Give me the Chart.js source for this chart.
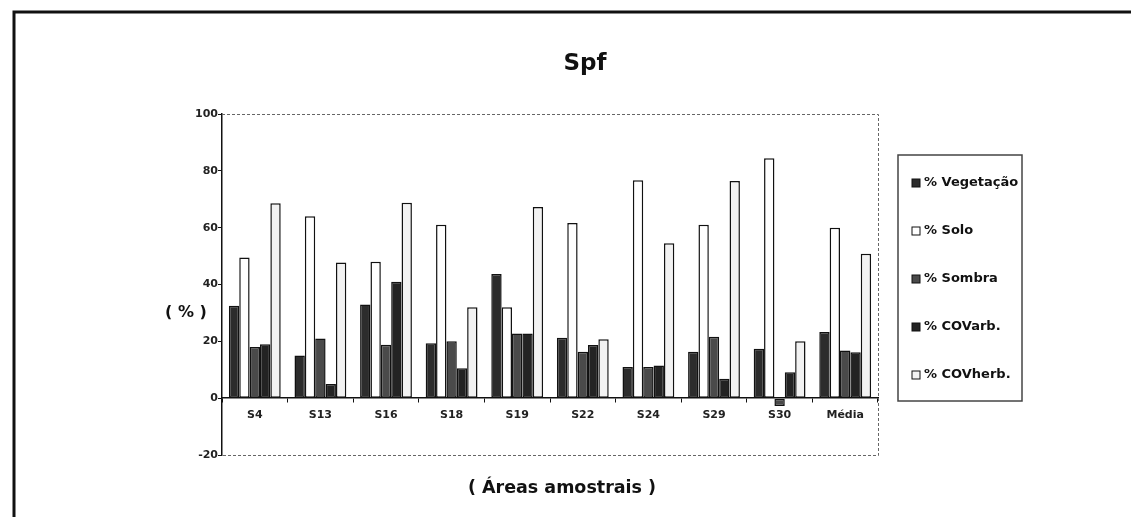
<!DOCTYPE html>
<html>
<head>
<meta charset="utf-8">
<script src="https://cdn.jsdelivr.net/npm/chart.js@4/dist/chart.umd.min.js"></script>
<style>
  html, body { margin: 0; padding: 0; background: #fff; }
  canvas { display: block; }
</style>
</head>
<body>
<canvas id="chart" width="1131" height="517"></canvas>
<script>
const categories = ['S4', 'S13', 'S16', 'S18', 'S19', 'S22', 'S24', 'S29', 'S30', 'Média'];
const vegetacao = [32.5, 15, 33, 19.3, 43.7, 21.3, 11, 16.3, 17.4, 23.3];
const solo = [49.5, 64, 48, 61, 32, 61.6, 76.7, 61, 84.4, 60];
const sombra = [18, 21, 18.8, 20, 22.8, 16.3, 11, 21.6, -2.8, 16.8];
const covArb = [19, 5, 41, 10.5, 22.8, 18.7, 11.5, 6.8, 9.1, 16.2];
const covHerb = [68.6, 47.7, 68.8, 32, 67.3, 20.7, 54.5, 76.4, 20, 50.8];
const yTicks = { min: -20, max: 100, step: 20 };

const FONT = "'DejaVu Sans', 'Liberation Sans', Arial, sans-serif";

// frame, dotted plot border, titles and the boxed legend
const decorations = {
    id: 'decorations',
    beforeDatasetsDraw(chart) {
        const { ctx, chartArea: a } = chart;
        ctx.save();
        ctx.strokeStyle = '#666';
        ctx.lineWidth = 1;
        ctx.setLineDash([3, 2]);
        ctx.beginPath();
        ctx.moveTo(a.left, a.top + 0.5);
        ctx.lineTo(a.right + 0.5, a.top + 0.5);
        ctx.lineTo(a.right + 0.5, a.bottom + 0.5);
        ctx.lineTo(a.left, a.bottom + 0.5);
        ctx.stroke();
        ctx.restore();
    },
    afterDraw(chart) {
        const { ctx, chartArea: a } = chart;
        ctx.save();

        // outer frame (top + left only, as scanned)
        ctx.strokeStyle = '#111';
        ctx.lineWidth = 3;
        ctx.beginPath();
        ctx.moveTo(1131, 12);
        ctx.lineTo(14, 12);
        ctx.lineTo(14, 517);
        ctx.stroke();

        ctx.fillStyle = '#111';
        ctx.textAlign = 'center';
        ctx.textBaseline = 'middle';
        ctx.font = `bold 23px ${FONT}`;
        ctx.fillText('Spf', 585, 64);
        ctx.font = `bold 16px ${FONT}`;
        ctx.fillText('( % )', 186, 313);
        ctx.font = `bold 17.5px ${FONT}`;
        ctx.fillText('( Áreas amostrais )', 562, 488);

        // legend
        const lx = 898, ly = 155, lw = 124, lh = 246;
        ctx.strokeStyle = '#444';
        ctx.lineWidth = 1.5;
        ctx.strokeRect(lx, ly, lw, lh);
        ctx.font = `bold 13px ${FONT}`;
        ctx.textAlign = 'left';
        chart.data.datasets.forEach((ds, i) => {
            const cy = 183 + i * 48;
            ctx.fillStyle = ds.backgroundColor;
            ctx.fillRect(912, cy - 4, 8, 8);
            ctx.strokeStyle = '#111';
            ctx.lineWidth = 1;
            ctx.strokeRect(912, cy - 4, 8, 8);
            ctx.fillStyle = '#111';
            ctx.fillText(ds.label, 924, cy);
        });
        ctx.restore();
    }
};

const barStyle = {
    borderColor: '#111',
    borderWidth: 1.5,
    borderSkipped: false,
    categoryPercentage: 0.79,
    barPercentage: 1.0
};

new Chart(document.getElementById('chart'), {
    type: 'bar',
    data: {
        labels: categories,
        datasets: [
            { label: '% Vegetação', data: vegetacao, backgroundColor: '#2c2c2c', ...barStyle },
            { label: '% Solo', data: solo, backgroundColor: '#ffffff', ...barStyle },
            { label: '% Sombra', data: sombra, backgroundColor: '#4a4a4a', ...barStyle },
            { label: '% COVarb.', data: covArb, backgroundColor: '#232323', ...barStyle },
            { label: '% COVherb.', data: covHerb, backgroundColor: '#f2f2f2', ...barStyle }
        ]
    },
    options: {
        responsive: false,
        animation: false,
        layout: { padding: { left: 182, right: 253, top: 114, bottom: 62 } },
        plugins: {
            legend: { display: false },
            title: { display: false },
            tooltip: { enabled: false }
        },
        scales: {
            x: {
                position: { y: 0 },
                grid: { drawOnChartArea: false, color: '#111', tickLength: 4 },
                border: { color: '#111', width: 1.5 },
                ticks: {
                    color: '#222',
                    padding: 6,
                    maxRotation: 0,
                    font: { family: FONT, size: 11, weight: 'bold' }
                }
            },
            y: {
                min: yTicks.min,
                max: yTicks.max,
                afterFit: (s) => { s.width = 40; },
                grid: { drawOnChartArea: false, color: '#111', tickLength: 4 },
                border: { color: '#111', width: 1.5 },
                ticks: {
                    stepSize: yTicks.step,
                    color: '#222',
                    padding: 0,
                    font: { family: FONT, size: 11, weight: 'bold' }
                }
            }
        }
    },
    plugins: [decorations]
});
</script>
</body>
</html>
